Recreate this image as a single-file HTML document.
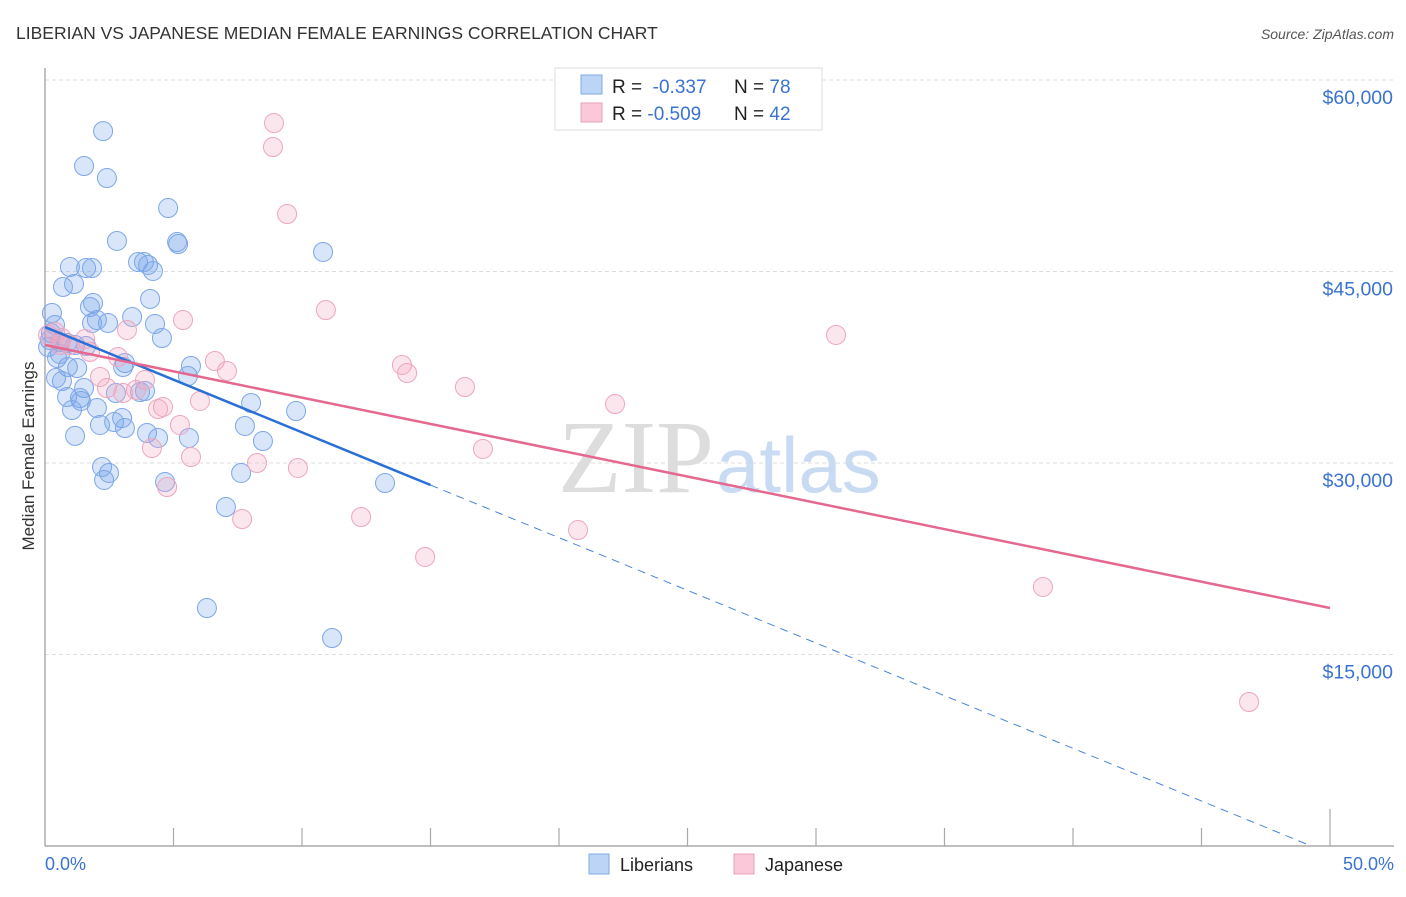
<!DOCTYPE html>
<html><head><meta charset="utf-8"><style>
body{margin:0;background:#fff;font-family:"Liberation Sans",sans-serif}
svg text{font-family:"Liberation Sans",sans-serif}
</style></head><body>
<svg id="chart" width="1406" height="892" xmlns="http://www.w3.org/2000/svg">
<text x="16" y="39" font-size="17.5" fill="#333">LIBERIAN VS JAPANESE MEDIAN FEMALE EARNINGS CORRELATION CHART</text>
<text x="1394" y="39" font-size="14" fill="#555" font-style="italic" text-anchor="end">Source: ZipAtlas.com</text>
<g id="grid"></g>
<text x="714" y="492" font-size="104" fill="#ddd" text-anchor="end" style="font-family:'Liberation Serif',serif">ZIP</text>
<text x="716" y="492" font-size="78" fill="#c9dbf3">atlas</text>
<line x1="45" y1="68" x2="45" y2="846" stroke="#999" stroke-width="1.2"/>
<line x1="45" y1="846" x2="1394" y2="846" stroke="#999" stroke-width="1.2"/>
<g id="ticks"></g>
<g id="ylabels"></g>
<text x="45" y="870" font-size="18" fill="#3b73d0">0.0%</text>
<text x="1394" y="870" font-size="18" fill="#3b73d0" text-anchor="end">50.0%</text>
<text transform="translate(34,456) rotate(-90)" font-size="17" fill="#333" text-anchor="middle">Median Female Earnings</text>
<g id="pts"></g>
<g id="lines"></g>
<g>
<rect x="555" y="68" width="267" height="62" fill="#fff" stroke="#ddd"/>
<rect x="581" y="75" width="21" height="19" fill="#bcd4f6" stroke="#7fa8e6"/>
<rect x="581" y="103" width="21" height="19" fill="#fac8d8" stroke="#eaa0bb"/>
<text x="612" y="93" font-size="19" fill="#222">R = <tspan fill="#3b73d0">&#160;-0.337</tspan></text>
<text x="734" y="93" font-size="19" fill="#222">N = <tspan fill="#3b73d0">78</tspan></text>
<text x="612" y="120" font-size="19" fill="#222">R = <tspan fill="#3b73d0">-0.509</tspan></text>
<text x="734" y="120" font-size="19" fill="#222">N = <tspan fill="#3b73d0">42</tspan></text>
</g>
<g>
<rect x="589" y="854" width="20" height="20" fill="#bcd4f6" stroke="#7fa8e6"/>
<text x="620" y="871" font-size="18" fill="#222">Liberians</text>
<rect x="734" y="854" width="20" height="20" fill="#fac8d8" stroke="#eaa0bb"/>
<text x="765" y="871" font-size="18" fill="#222">Japanese</text>
</g>
</svg>
<script>
const yTicks=[60000,45000,30000,15000];
const yTickLabels=["$60,000","$45,000","$30,000","$15,000"];
const libX=[2.26,1.52,2.41,4.79,2.80,5.14,5.18,10.82,0.97,1.60,1.83,3.62,3.85,4.01,4.20,1.13,0.70,4.09,1.87,1.75,0.27,2.02,2.45,1.83,3.39,4.28,4.55,0.23,0.19,0.58,0.86,1.17,1.60,0.47,3.11,0.89,5.68,1.25,0.43,0.66,3.04,5.56,1.52,2.76,3.89,3.70,0.86,1.36,1.40,1.05,2.02,9.77,8.02,3.00,2.69,2.14,3.11,3.97,4.40,5.60,1.17,7.78,8.48,2.22,2.49,2.30,4.67,7.63,13.23,7.04,6.30,11.17,0.39,0.12,0.58];
const libY=[56000,53260,52320,49970,47390,47310,47150,46530,45350,45270,45270,45740,45740,45510,45040,44020,43790,42850,42530,42220,41750,41200,40970,40970,41440,40890,39790,40180,39630,39480,39400,39240,39160,38220,37830,37520,37600,37440,36660,36420,37520,36810,35870,35480,35640,35560,35170,35090,34860,34150,34310,34070,34700,33520,33210,32980,32740,32350,31960,31960,32120,32900,31720,29690,29220,28670,28510,29220,28430,26550,18640,16290,40810,39090,38540];
const japX=[8.91,8.87,9.42,10.93,5.37,30.78,3.19,0.39,0.66,0.97,1.56,1.75,2.84,6.61,7.08,13.89,14.09,16.34,2.41,3.54,3.04,6.03,4.40,4.59,5.25,2.14,22.18,17.04,4.16,5.68,4.75,8.25,9.84,7.67,12.30,20.74,14.79,38.83,46.85,0.12,0.58,3.89];
const japY=[56630,54750,49500,41980,41200,40030,40420,40260,39790,39240,39710,38700,38300,37990,37210,37680,37050,35950,35870,35720,35480,34860,34230,34390,32980,36740,34620,31100,31170,30470,28120,30000,29610,25610,25770,24750,22640,20290,11280,40030,39240,36500];
const libTrend=[40650,-825];
const libSolidEnd=[15];
const japTrend=[39240,-412];
const NS="http://www.w3.org/2000/svg";
const xs=p=>45+p/50*1285;
const ys=v=>80+(60000-v)/15000*191.5;
function mk(tag,attrs,parent){const e=document.createElementNS(NS,tag);for(const k in attrs)e.setAttribute(k,attrs[k]);document.getElementById(parent).appendChild(e);return e;}
yTicks.forEach((t,i)=>{
 const l=mk('line',{x1:45,x2:1394,y1:ys(t),y2:ys(t),stroke:'#ddd','stroke-dasharray':'4,3'},'grid');
 
 
 const tx=mk('text',{x:1393,y:ys(t)+24,'font-size':19.5,fill:'#3b73d0','text-anchor':'end'},'ylabels');
 tx.textContent=yTickLabels[i];
 
 
});
for(let i=1;i<=10;i++){
 const x=xs(i*5);
 const l=mk('line',{x1:x,x2:x,y1:i==10?809:828,y2:846,stroke:'#aaa','stroke-width':1.2},'ticks');
 
 
}
libX.forEach((p,i)=>{
 const c=mk('circle',{cx:xs(p),cy:ys(libY[i]),r:9.5,fill:'rgba(120,165,235,0.28)',stroke:'#7ea6e8','stroke-width':1},'pts');
 
 
});
japX.forEach((p,i)=>{
 const c=mk('circle',{cx:xs(p),cy:ys(japY[i]),r:9.5,fill:'rgba(245,165,195,0.28)',stroke:'#eca6bf','stroke-width':1},'pts');
 
 
});
const lf=p=>libTrend[0]+libTrend[1]*p;
const pEnd=-libTrend[0]/libTrend[1];
let l1=mk('line',{x1:xs(0),y1:ys(lf(0)),x2:xs(libSolidEnd[0]),y2:ys(lf(libSolidEnd[0])),stroke:'#2a6fd6','stroke-width':2.5},'lines');


let l2=mk('line',{x1:xs(libSolidEnd[0]),y1:ys(lf(libSolidEnd[0])),x2:xs(pEnd),y2:ys(0),stroke:'#4a84dc','stroke-width':1,'stroke-dasharray':'8,6'},'lines');


const jf=p=>japTrend[0]+japTrend[1]*p;
let l3=mk('line',{x1:xs(0),y1:ys(jf(0)),x2:xs(50),y2:ys(jf(50)),stroke:'#e5688f','stroke-width':2.5},'lines');


</script>
</body></html>
